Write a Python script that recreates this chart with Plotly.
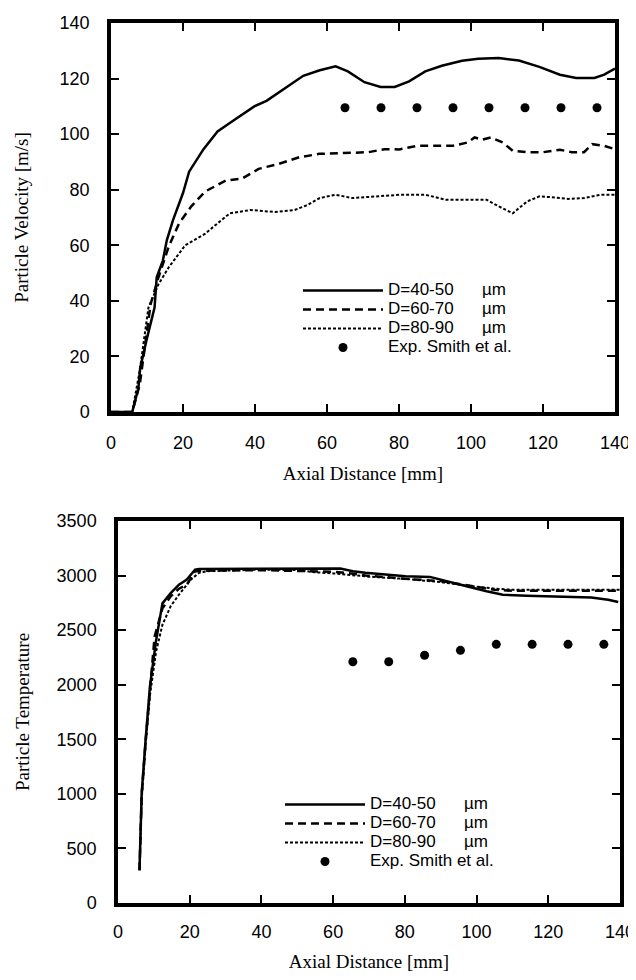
import plotly.graph_objects as go

# ---------------- data: particle velocity ----------------
x_v40 = [0, 5.9, 7.6, 8.1, 9.8, 12.1, 12.7, 14.4, 15.5, 17.2, 20, 21.7, 25.7, 29.6, 33, 36.4, 39.8, 43.2,
         46.6, 50, 53.4, 58, 62.4, 65.8, 70.4, 74.9, 78.8, 82.8, 87.3, 91.9, 97.5, 102, 107.7, 113.3, 119,
         124.7, 129.2, 134.3, 137, 140]
v_40 = [0, 0, 8.5, 15.8, 25.5, 37.6, 48.5, 54.5, 61.8, 69, 78.8, 86.5, 94.6, 101, 104, 107, 110, 112,
        115, 118, 121, 123, 124.4, 122.6, 118.7, 117, 117, 119, 122.6, 124.6, 126.4, 127.1, 127.4, 126.5, 124.2,
        121.4, 120.2, 120.2, 121.4, 123.6]

x_v60 = [0, 5.9, 8, 9.5, 11, 13.2, 16, 18.9, 22.3, 26.2, 31.9, 36.4, 41, 46.6, 52.3, 57.9, 61.3, 68.1, 71.5,
         76, 80, 85, 90, 95, 99, 101, 103, 105.5, 108.8, 111.6, 115.6, 120, 124.7, 128, 131.4, 133.7, 137, 140]
v_60 = [0, 0, 10, 24, 38.8, 48.5, 59.4, 67.9, 74, 79.4, 83.3, 84, 87.5, 89.3, 91.7, 92.9, 93, 93.2, 93.5,
        94.6, 94.5, 95.8, 95.8, 95.8, 97, 98.8, 98, 98.8, 97, 94, 93.5, 93.5, 94.4, 93.5, 93.5, 96.4, 95.8, 94.6]

x_v80 = [0, 5.9, 8, 10.4, 13.2, 16, 20.6, 26.2, 29.6, 33, 38.7, 45.5, 51, 54.6, 58, 62.4, 67, 73.8, 80.5,
         87.3, 93, 98.6, 104.3, 107.7, 111.6, 115.6, 119, 122.4, 127, 131.4, 136, 140]
v_80 = [0, 0, 15, 37.6, 46, 52, 60, 64.2, 67.9, 71.5, 72.7, 72, 72.7, 74.5, 77, 78.2, 77, 77.6, 78.2,
        78.2, 76.4, 76.4, 76.4, 74, 71.5, 75.8, 77.6, 77.3, 76.7, 77, 78.2, 78.2]

x_vexp = [65, 75, 85, 95, 105, 115, 125, 135]
v_exp = [109.5, 109.5, 109.5, 109.5, 109.5, 109.5, 109.5, 109.5]

# ---------------- data: particle temperature ----------------
x_t40 = [6, 6.6, 7.7, 8.9, 10.6, 12.4, 14.7, 17, 19.2, 21.5, 22.6, 40, 62, 65.5, 69, 74.6, 80.2, 87, 91.5,
         97.2, 102.8, 107.3, 114, 125.4, 132, 136.7, 139.5]
t_40 = [300, 1006, 1494, 1982, 2400, 2745, 2840, 2917, 2963, 3055, 3061, 3065, 3065, 3040, 3025, 3009, 2994,
        2988, 2948, 2902, 2856, 2825, 2816, 2810, 2800, 2779, 2758]

x_t60 = [6, 6.6, 7.7, 8.9, 10.2, 12.4, 14.7, 17, 19.2, 21.5, 25, 40, 55, 60, 65, 69, 75, 80, 90, 97, 105,
         110, 120, 130, 140]
t_60 = [300, 990, 1480, 1960, 2440, 2700, 2810, 2880, 2917, 3040, 3045, 3050, 3040, 3035, 3020, 3000, 2985,
        2970, 2950, 2910, 2870, 2860, 2860, 2860, 2860]

x_t80 = [6, 6.6, 7.7, 8.9, 10.6, 12.4, 14.7, 17, 20.3, 22.6, 25, 40, 50, 55, 60, 70, 80, 90, 97, 105, 110,
         120, 130, 140]
t_80 = [300, 950, 1450, 1900, 2300, 2550, 2720, 2825, 2963, 3025, 3040, 3055, 3050, 3030, 3020, 2990, 2970,
        2940, 2910, 2880, 2870, 2870, 2870, 2870]

x_texp = [65.5, 75.5, 85.5, 95.5, 105.5, 115.5, 125.5, 135.5]
t_exp = [2210, 2210, 2270, 2315, 2370, 2370, 2370, 2370]

NB = "\u00a0" * 6
series_names = ["D=40-50" + NB + "µm", "D=60-70" + NB + "µm", "D=80-90" + NB + "µm", "Exp. Smith et al."]

x_ticks = [0, 20, 40, 60, 80, 100, 120, 140]
v_ticks = [0, 20, 40, 60, 80, 100, 120, 140]
t_ticks = [0, 500, 1000, 1500, 2000, 2500, 3000, 3500]

SANS = "Liberation Sans, Arial, sans-serif"
SERIF = "Liberation Serif, Times New Roman, serif"

# the page body has an 8px default margin, so the figure starts 8px in from the window corner
OFF = 8
W, H = 636 - OFF, 980 - OFF


def px(xp):
    return (xp - OFF) / W


def py(yp):
    return 1 - (yp - OFF) / H


def leg_label(s):
    return "<span style='font-size:17px'>" + s + "</span>"


styles = [dict(color="black", width=2.5, dash="solid"),
          dict(color="black", width=2.5, dash="8px,5px"),
          dict(color="black", width=2, dash="3px,2px")]

fig = go.Figure()
for xs, ys, nm, st in zip([x_v40, x_v60, x_v80], [v_40, v_60, v_80], series_names[:3], styles):
    fig.add_trace(go.Scatter(x=xs, y=ys, mode="lines", name=leg_label(nm), line=st,
                             xaxis="x", yaxis="y", legend="legend"))
fig.add_trace(go.Scatter(x=x_vexp, y=v_exp, mode="markers", name=leg_label(series_names[3]),
                         marker=dict(color="black", size=9), xaxis="x", yaxis="y", legend="legend"))

for xs, ys, nm, st in zip([x_t40, x_t60, x_t80], [t_40, t_60, t_80], series_names[:3], styles):
    fig.add_trace(go.Scatter(x=xs, y=ys, mode="lines", name=leg_label(nm), line=st,
                             xaxis="x2", yaxis="y2", legend="legend2"))
fig.add_trace(go.Scatter(x=x_texp, y=t_exp, mode="markers", name=leg_label(series_names[3]),
                         marker=dict(color="black", size=9), xaxis="x2", yaxis="y2", legend="legend2"))

axis_common = dict(showline=True, linecolor="black", linewidth=3.5, mirror="ticks", ticks="inside",
                   ticklen=8, tickwidth=2, tickcolor="black", showgrid=False, zeroline=False,
                   automargin=False, ticklabeloverflow="allow",
                   tickfont=dict(family=SANS, size=18, color="black"))
title_font = dict(family=SERIF, size=19, color="black")

fig.update_layout(
    template="none",
    width=W, height=H,
    margin=dict(l=0, r=0, t=0, b=0, pad=0),
    paper_bgcolor="white", plot_bgcolor="white",
    showlegend=True,
    xaxis=dict(domain=[px(111), px(615)], range=[0, 140], tickvals=x_ticks, anchor="y",
               ticklabelstandoff=12,
               title=dict(text="Axial Distance [mm]", font=title_font, standoff=15), **axis_common),
    yaxis=dict(domain=[py(412), py(23)], range=[0, 140], tickvals=v_ticks, anchor="x",
               ticklabelstandoff=14,
               title=dict(text="Particle Velocity [m/s]", font=title_font, standoff=27), **axis_common),
    xaxis2=dict(domain=[px(118), px(620)], range=[0, 140], tickvals=x_ticks, anchor="y2",
                ticklabelstandoff=10,
                title=dict(text="Axial Distance [mm]", font=title_font, standoff=14), **axis_common),
    yaxis2=dict(domain=[py(903), py(521)], range=[0, 3500], tickvals=t_ticks, anchor="x2",
                ticklabelstandoff=14,
                title=dict(text="Particle Temperature", font=title_font, standoff=23), **axis_common),
    legend=dict(x=px(298), y=py(276), xanchor="left", yanchor="top", bgcolor="rgba(0,0,0,0)",
                font=dict(family=SANS, size=12, color="black"), itemwidth=80, tracegroupgap=0),
    legend2=dict(x=px(280), y=py(790), xanchor="left", yanchor="top", bgcolor="rgba(0,0,0,0)",
                 font=dict(family=SANS, size=12, color="black"), itemwidth=80, tracegroupgap=0),
)

fig.write_html("out.html")
